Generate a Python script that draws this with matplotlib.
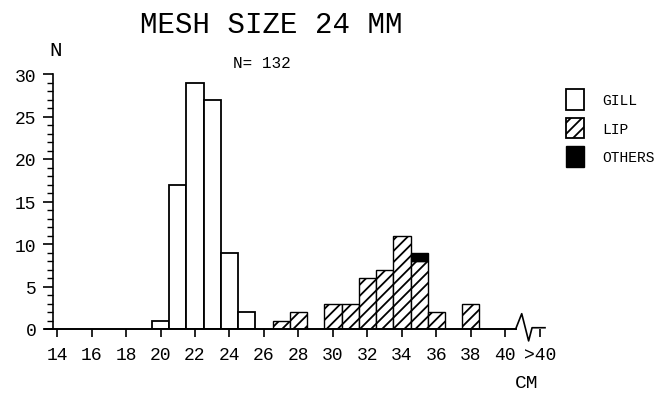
import matplotlib
matplotlib.use('Agg')
import matplotlib.pyplot as plt
from matplotlib.patches import Patch
from matplotlib.ticker import MultipleLocator

plt.rcParams['font.family'] = ['Liberation Mono', 'DejaVu Sans Mono']
plt.rcParams['hatch.linewidth'] = 1.3

# fish length classes (cm), one bar per class
gill_len = [20, 21, 22, 23, 24, 25]
gill_n = [1, 17, 29, 27, 9, 2]
lip_len = [27, 28, 30, 31, 32, 33, 34, 35, 36, 38]
lip_n = [1, 2, 3, 3, 6, 7, 11, 8, 2, 3]
others_len = [35]
others_n = [1]
others_base = [8]  # stacked on the LIP bar at 35 cm

xtick_pos = list(range(14, 41, 2)) + [42]
xtick_lab = [str(v) for v in range(14, 41, 2)] + ['>40']

fig = plt.figure(figsize=(6.64, 4.02), dpi=100)
ax = fig.add_axes([45/664, 1 - 330/402, 500/664, 255/402])

ax.bar(gill_len, gill_n, width=1.0, color='white', edgecolor='black', linewidth=1.3, label='GILL')
ax.bar(lip_len, lip_n, width=1.0, color='white', edgecolor='black', linewidth=1.0, hatch='///', label='LIP')
ax.bar(others_len, others_n, bottom=others_base, width=1.0, color='black', edgecolor='black', label='OTHERS')

ax.set_xlim(13.3, 42.3)
ax.set_ylim(0, 30)

for s in ['top', 'right']:
	ax.spines[s].set_visible(False)
ax.spines['left'].set_position(('data', 13.76))
ax.spines['left'].set_bounds(0, 30)
ax.spines['bottom'].set_bounds(13.3, 40.6)
ax.spines['left'].set_linewidth(1.2)
ax.spines['bottom'].set_linewidth(1.4)

# axis break before the >40 class
ax.plot([40.6, 40.95, 41.35, 41.55, 42.3], [0, 1.8, -1.4, 0.15, 0.15], color='black', lw=1.2, clip_on=False)

ax.set_xticks(xtick_pos)
ax.set_xticklabels(xtick_lab)
ax.yaxis.set_major_locator(MultipleLocator(5))
ax.yaxis.set_minor_locator(MultipleLocator(1))
ax.tick_params(axis='x', direction='out', length=6, width=1.2, pad=6, labelsize=13)
ax.tick_params(axis='y', which='major', direction='out', length=7, width=1.2, pad=5, labelsize=13)
ax.tick_params(axis='y', which='minor', direction='out', length=4, width=1.0)

fig.text(271/664, 1 - 25/402, 'MESH SIZE 24 MM', ha='center', va='center', fontsize=21)
fig.text(262/664, 1 - 63/402, 'N= 132', ha='center', va='center', fontsize=11.5)
fig.text(56/664, 1 - 50/402, 'N', ha='center', va='center', fontsize=15)
fig.text(527/664, 1 - 384/402, 'CM', ha='center', va='center', fontsize=14)

handles = [
	Patch(facecolor='white', edgecolor='black', linewidth=1.3),
	Patch(facecolor='white', edgecolor='black', hatch='///', linewidth=1.3),
	Patch(facecolor='black', edgecolor='black'),
]
fig.legend(handles, ['GILL', 'LIP', 'OTHERS'], loc='upper left', bbox_to_anchor=(553/664, 1 - 77/402),
	frameon=False, fontsize=10.5, handlelength=1.2, handleheight=1.8, labelspacing=0.55, handletextpad=1.3)

fig.savefig('out.png', dpi=100)
